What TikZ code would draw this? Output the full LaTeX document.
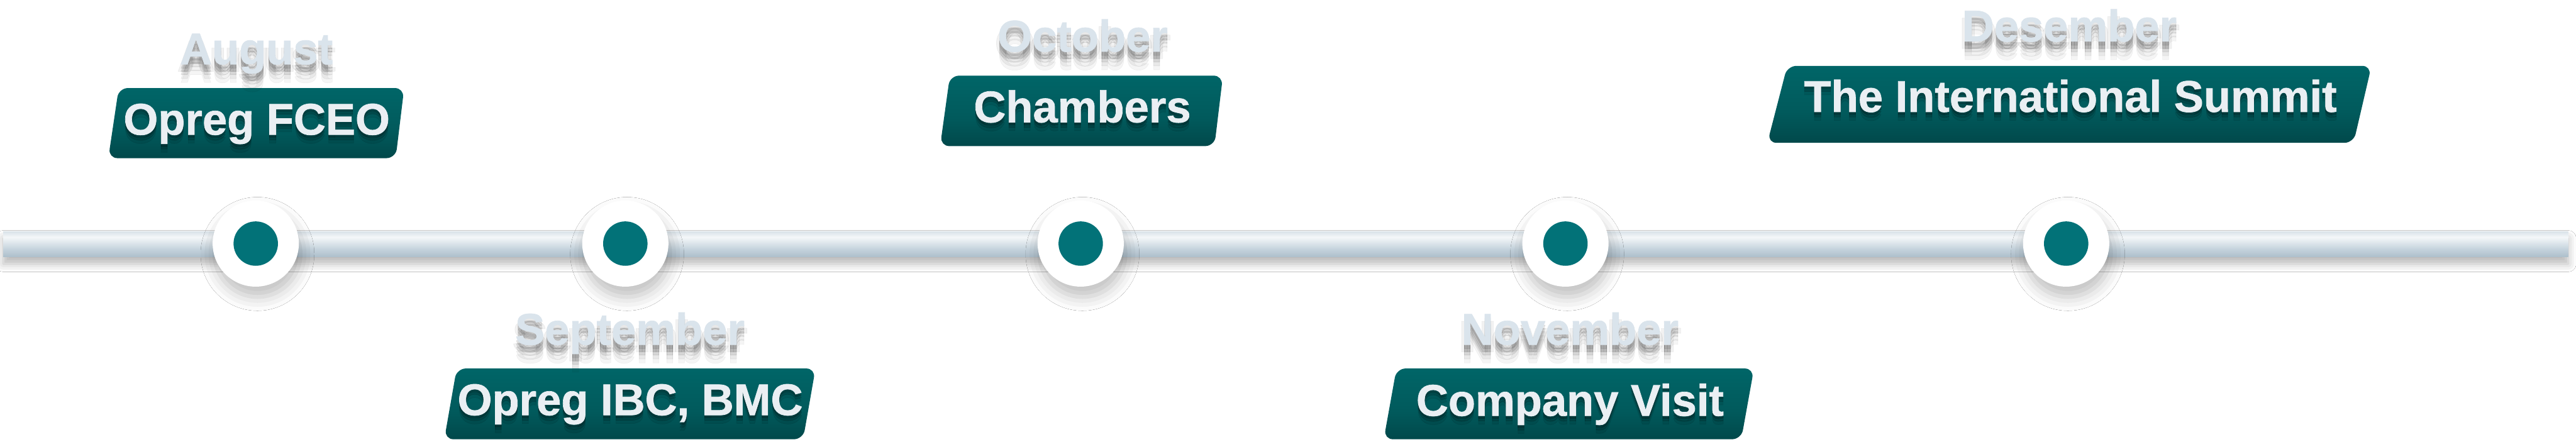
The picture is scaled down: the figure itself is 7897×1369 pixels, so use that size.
\documentclass[tikz,border=0pt]{standalone}
\usepackage{fontspec}
\setmainfont{Liberation Sans}
\newfontfamily\heavyfont[FakeBold=1.0]{Liberation Sans Bold}
\usetikzlibrary{shadows.blur}
\definecolor{dotteal}{RGB}{2,114,120}
\definecolor{monthcol}{RGB}{218,228,236}
\definecolor{textcol}{RGB}{234,239,243}
\definecolor{tubeLow}{RGB}{196,210,219}
\definecolor{tubeDark}{RGB}{162,182,195}
\definecolor{tubeMid}{RGB}{196,210,220}
\definecolor{tubeHi}{RGB}{244,247,249}
\definecolor{tubeTop}{RGB}{172,190,202}
\definecolor{bxA}{RGB}{1,56,58}
\definecolor{bxB}{RGB}{1,66,68}
\definecolor{bxC}{RGB}{1,90,92}
\definecolor{bxD}{RGB}{0,106,108}
\definecolor{bxE}{RGB}{0,116,118}
\definecolor{bxF}{RGB}{12,142,143}
\pgfdeclareverticalshading{tube}{100bp}{color(0bp)=(tubeLow); color(18bp)=(tubeDark); color(40bp)=(tubeMid); color(64bp)=(tubeHi); color(84bp)=(tubeMid); color(100bp)=(tubeTop)}
\pgfdeclareverticalshading{boxshade}{100bp}{color(0bp)=(bxB); color(6bp)=(bxA); color(45bp)=(bxC); color(88bp)=(bxD); color(95bp)=(bxE); color(100bp)=(bxF)}
\newcommand\labfont{\fontsize{38.7pt}{40pt}\selectfont\heavyfont}
\tikzset{
  monthtxt/.style={font=\labfont, text=monthcol, anchor=base, inner sep=0pt},
  monthshadow/.style={font=\labfont, text=black, anchor=base, inner sep=0pt},
  boxtxt/.style={font=\labfont, text=textcol, anchor=base, inner sep=0pt},
  eventbox/.style={shading=boxshade, rounded corners=8},
  ring/.style={circle, fill=white, minimum size=2.64cm, inner sep=0pt,
    blur shadow={shadow xshift=1.5pt, shadow yshift=-9pt, shadow blur radius=12pt, shadow opacity=25}},
  dot/.style={circle, fill=dotteal, minimum size=1.36cm, inner sep=0pt},
}
\newcommand\softshadow[4]{%
  \foreach \dx/\dy/\op [count=\k] in {0/12/0.09, 0/22/0.09, 0/32/0.08, -9/22/0.05, 9/22/0.05, 0/44/0.05, 0/56/0.04}{%
    \node[monthshadow, opacity=\op] (#4s\k) at ({#1+\dx},{#2+\dy}) {#3};}}
\newcommand\boxshadowtext[4]{%
  \foreach \dy/\op [count=\k] in {8/0.18, 16/0.14, 26/0.08}{%
    \node[monthshadow, opacity=\op] (#4s\k) at ({#1},{#2+\dy}) {#3};}}
\begin{document}
\begin{tikzpicture}[x=0.01cm,y=-0.01cm]
\useasboundingbox[fill=white] (0,0) rectangle (7897,1369);
% timeline tube
\path[blur shadow={shadow xshift=0pt, shadow yshift=-6pt, shadow blur radius=7pt, shadow opacity=28}, shade, shading=tube] (10,710) rectangle (7873,788);
% markers
\foreach \n/\x in {1/784, 2/1917, 3/3313, 4/4799, 5/6334}{
  \node[ring] (c\n) at (\x,747) {};
  \node[dot] (d\n) at (c\n) {};
}
% event boxes
\path[eventbox] (332,485) -- (1213,485) -- (1239,270) -- (364,270) -- cycle;
\path[eventbox] (1362,1347) -- (2462,1347) -- (2500,1130) -- (1400,1130) -- cycle;
\path[eventbox] (2882,448) -- (3723,448) -- (3749,232) -- (2912,232) -- cycle;
\path[eventbox] (4242,1347) -- (5338,1347) -- (5377,1130) -- (4281,1130) -- cycle;
\path[eventbox] (5418,438) -- (7215,438) -- (7270,202) -- (5479,202) -- cycle;
% month labels
\softshadow{786}{197}{August}{m1}
\node[monthtxt] (m1) at (786,197) {August};
\softshadow{1931}{1057}{September}{m2}
\node[monthtxt] (m2) at (1931,1057) {September};
\softshadow{3319}{158}{October}{m3}
\node[monthtxt] (m3) at (3319,158) {October};
\softshadow{4813}{1057}{November}{m4}
\node[monthtxt] (m4) at (4813,1057) {November};
\softshadow{6344}{127}{Desember}{m5}
\node[monthtxt] (m5) at (6344,127) {Desember};
% box texts
\boxshadowtext{787}{413}{Opreg FCEO}{t1}
\node[boxtxt] (t1) at (787,413) {Opreg FCEO};
\boxshadowtext{1932}{1273}{Opreg IBC, BMC}{t2}
\node[boxtxt] (t2) at (1932,1273) {Opreg IBC, BMC};
\boxshadowtext{3318}{375}{Chambers}{t3}
\node[boxtxt] (t3) at (3318,375) {Chambers};
\boxshadowtext{4813}{1275}{Company Visit}{t4}
\node[boxtxt] (t4) at (4813,1275) {Company Visit};
\boxshadowtext{6347}{343}{The International Summit}{t5}
\node[boxtxt] (t5) at (6347,343) {The International Summit};
\end{tikzpicture}
\end{document}
